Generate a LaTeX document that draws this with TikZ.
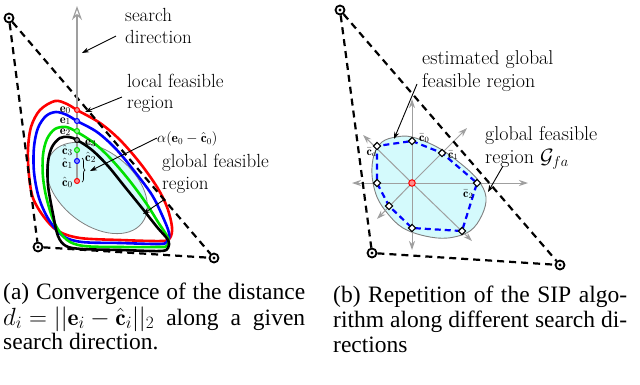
\documentclass[tikz,border=0pt]{standalone}
\usepackage{fontspec}
\newfontfamily\capfont{Liberation Serif}
\usetikzlibrary{arrows.meta,decorations.pathreplacing}
\definecolor{cyanfill}{RGB}{212,250,252}
\definecolor{myred}{RGB}{255,0,0}
\definecolor{myblue}{RGB}{0,0,255}
\definecolor{mygreen}{RGB}{0,225,0}
\begin{document}
\begin{tikzpicture}[x=1pt,y=-1pt,
  lbl/.style={font=\fontsize{19}{22}\selectfont, inner sep=0, anchor=base west},
  rlbl/.style={font=\fontsize{20}{23}\selectfont, inner sep=0, anchor=base west},
  ptlbl/.style={font=\fontsize{12.5}{15}\selectfont, inner sep=0},
  smlbl/.style={font=\fontsize{12}{14}\selectfont, inner sep=0},
  captxt/.style={font=\capfont\fontsize{23.5}{25}\selectfont, inner sep=0, anchor=base west},
  ptr/.style={-{Stealth[length=7pt,width=5pt]}, line width=0.9pt},
  tri/.style={line width=2.2pt, dash pattern=on 7pt off 5pt},
  corner/.style={circle, draw, line width=1.8pt, minimum size=9pt, inner sep=0, fill=white},
  pdot/.style={circle, draw=#1, fill=#1!45, line width=1pt, minimum size=5pt, inner sep=0},
  spoke/.style={-{Stealth[length=9pt,width=6pt]}, draw=gray!75, line width=1pt},
  diam/.style={rectangle, draw, line width=1.1pt, fill=white, rotate=45, minimum size=5pt, inner sep=0},
  curve/.style={line width=2.6pt}
]
\useasboundingbox (0,0) rectangle (640,384);

% ================= LEFT PANEL =================
\filldraw[fill=cyanfill, draw=gray, line width=0.8pt, rotate around={-38:(97,188)}]
  (97,188) ellipse [x radius=57, y radius=37];

\draw[curve, myred] plot[smooth cycle, tension=0.55] coordinates {
 (77,110) (100,123) (120,140) (140,163) (157,187) (167,207) (172,227) (170,238) (162,241)
 (120,240) (80,238) (58,231) (44,217) (33,198) (29,175) (28,150) (31,127) (40,110) (55,101) (67,104)};
\draw[curve, myblue] plot[smooth cycle, tension=0.55] coordinates {
 (77,121) (97,132) (116,149) (135,172) (152,195) (162,215) (169,233) (167,242) (158,244)
 (120,243) (82,242) (63,236) (49,220) (39,198) (34,172) (34,147) (38,128) (46,116) (56,112) (67,115)};
\draw[curve, mygreen] plot[smooth cycle, tension=0.55] coordinates {
 (77,132) (94,143) (111,159) (129,180) (146,203) (158,222) (168,238) (167,246) (158,247)
 (120,247) (84,246) (67,240) (55,224) (47,200) (43,177) (43,155) (47,139) (55,129) (66,127)};
\draw[curve, black] plot[smooth cycle, tension=0.55] coordinates {
 (77,140) (92,150) (108,166) (125,187) (142,208) (157,227) (168,240) (168,248) (160,251)
 (120,250) (82,249) (66,246) (58,236) (53,214) (48,185) (48,162) (52,147) (60,138) (69,137)};

% triangle
\node[corner] (TL1) at (9,18) {};
\node[corner] (BL1) at (38,247) {};
\node[corner] (BR1) at (214,258) {};
\draw[tri] (TL1) -- (BL1);
\draw[tri] (TL1) -- (BR1);
\draw[tri] (BL1) -- (BR1);
\foreach \n in {TL1,BL1,BR1} \fill (\n.center) circle (1.6);

% search direction arrow
\coordinate (sdtop) at (77,6);
\coordinate (sdbot) at (77,182);
\draw[gray!75, line width=2.2pt, -{Stealth[length=14pt,width=10pt,open,line width=1.2pt]}] (sdbot) -- (sdtop);

% points
\node[pdot=myred] (e0) at (77,110) {};
\node[pdot=myblue] (e1) at (77,121) {};
\node[pdot=mygreen] (e2) at (77,131) {};
\node[pdot=black] (e3) at (77,140) {};
\node[pdot=mygreen] (c3) at (77,150) {};
\node[pdot=myblue] (c1) at (77,161) {};
\node[pdot=myred] (c0) at (77,181) {};

\node[ptlbl, anchor=base east] (le0) at (71,112) {$\mathbf{e}_0$};
\node[ptlbl, anchor=base east] (le1) at (71,123) {$\mathbf{e}_1$};
\node[ptlbl, anchor=base east] (le2) at (71,134) {$\mathbf{e}_2$};
\node[ptlbl, anchor=base west] (le3) at (85,145) {$\mathbf{e}_3$};
\node[ptlbl, anchor=base east] (lc3) at (73,154) {$\hat{\mathbf{c}}_3$};
\node[ptlbl, anchor=base west] (lc2) at (85,161) {$\hat{\mathbf{c}}_2$};
\node[ptlbl, anchor=base east] (lc1) at (73,167) {$\hat{\mathbf{c}}_1$};
\node[ptlbl, anchor=base east] (lc0) at (73,186) {$\hat{\mathbf{c}}_0$};

\draw[line width=0.7pt, decorate, decoration={brace, amplitude=3pt}] (82,158) -- (82,182);

% labels left
\node[lbl] (sd1) at (125,21) {search};
\node[lbl] (sd2) at (125,43) {direction};
\node[lbl] (lf1) at (127,87) {local feasible};
\node[lbl] (lf2) at (127,108) {region};
\node[smlbl, font=\fontsize{13.5}{16}\selectfont, anchor=base west] (alph) at (157,142) {$\alpha(\mathbf{e}_0-\hat{\mathbf{c}}_0)$};
\node[lbl] (gf1) at (162,167) {global feasible};
\node[lbl] (gf2) at (162,189) {region};

\coordinate (a1s) at (116,36);  \coordinate (a1e) at (82,53);
\coordinate (a2s) at (122,97);  \coordinate (a2e) at (85,112);
\coordinate (a3s) at (157,138); \coordinate (a3e) at (90,171);
\coordinate (a4s) at (165,199); \coordinate (a4e) at (143,214);
\draw[ptr] (a1s) -- (a1e);
\draw[ptr] (a2s) -- (a2e);
\draw[ptr] (a3s) -- (a3e);
\draw[ptr] (a4s) -- (a4e);

% ================= RIGHT PANEL =================
\filldraw[fill=cyanfill, draw=gray, line width=0.9pt] plot[smooth cycle, tension=0.6] coordinates {
 (412,137) (437,147) (460,163) (478,180) (486,197) (482,215) (470,231) (448,238) (425,236)
 (403,228) (388,214) (377,197) (372,175) (374,155) (382,142) (396,137)};

\coordinate (O) at (412,183);
\coordinate (s0) at (412,99);
\coordinate (s1) at (467,128);
\coordinate (s2) at (528,183);
\coordinate (s3) at (472,241);
\coordinate (s4) at (412,250);
\coordinate (s5) at (377,219);
\coordinate (s6) at (352,183);
\coordinate (s7) at (363,135);
\foreach \s in {s0,s1,s2,s3,s4,s5,s6,s7} \draw[spoke] (O) -- (\s);

\coordinate (p0) at (412,141);
\coordinate (p1) at (442,153);
\coordinate (p2) at (477,183);
\coordinate (p3) at (462,231);
\coordinate (p4) at (412,228);
\coordinate (p5) at (389,206);
\coordinate (p6) at (377,183);
\coordinate (p7) at (377,146);
\draw[myblue, line width=2.2pt, dash pattern=on 6pt off 4pt]
  (p0) -- (p1) -- (p2) -- (p3) -- (p4) -- (p5) -- (p6) -- (p7) -- cycle;

\node[smlbl, anchor=base west] (lp0) at (419,141) {$\bar{\mathbf{c}}_0$};
\node[smlbl, anchor=base west] (lp1) at (448,158) {$\bar{\mathbf{c}}_1$};
\node[smlbl, anchor=base west] (lp2) at (463,197) {$\bar{\mathbf{c}}_2$};
\node[smlbl, anchor=base east] (lp7) at (377,155) {$\bar{\mathbf{c}}_d$};

\foreach \p in {p0,p1,p2,p3,p4,p5,p6,p7} \node[diam] at (\p) {};
\node[pdot=myred, minimum size=6.5pt] (ctr) at (O) {};

\node[corner] (TL2) at (340,10) {};
\node[corner] (BL2) at (372,253) {};
\node[corner] (BR2) at (560,265) {};
\draw[tri] (TL2) -- (BL2);
\draw[tri] (TL2) -- (BR2);
\draw[tri] (BL2) -- (BR2);
\foreach \n in {TL2,BL2,BR2} \fill (\n.center) circle (1.6);

\node[rlbl] (eg1) at (422,64) {estimated global};
\node[rlbl] (eg2) at (422,87) {feasible region};
\node[rlbl] (rg1) at (485,140) {global feasible};
\node[rlbl] (rg2) at (485,163) {region $\mathcal{G}_{fa}$};

\coordinate (b1s) at (417,84);  \coordinate (b1e) at (394,139);
\coordinate (b2s) at (503,166); \coordinate (b2e) at (488,192);
\draw[ptr] (b1s) -- (b1e);
\draw[ptr] (b2s) -- (b2e);

% ================= CAPTIONS =================
\node[captxt] (ca1) at (3,299) {\makebox[302pt][s]{(a) Convergence of the distance}};
\node[captxt] (ca2) at (3,325) {\makebox[302pt][s]{\mbox{$d_i = ||\mathbf{e}_i - \hat{\mathbf{c}}_i||_2$} along a given}};
\node[captxt] (ca3) at (3,349) {search direction.};
\node[captxt] (cb1) at (333,302) {\makebox[294pt][s]{(b) Repetition of the SIP algo-}};
\node[captxt] (cb2) at (333,327) {\makebox[294pt][s]{rithm along different search di-}};
\node[captxt] (cb3) at (333,352) {rections};
\end{tikzpicture}
\end{document}
